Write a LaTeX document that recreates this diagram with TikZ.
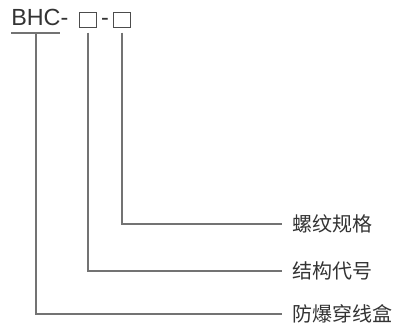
\documentclass[tikz,border=0pt]{standalone}
\usepackage{fontspec}
\setmainfont{Liberation Sans}
\newfontfamily\cjk{Noto Sans CJK SC}
\begin{document}
\begin{tikzpicture}[x=0.75pt,y=-0.75pt,
    lead/.style={draw=black!55,line width=1.1pt},
    slot/.style={draw=black!70,line width=0.9pt,minimum width=12.75pt,minimum height=11pt,inner sep=0pt},
    part/.style={anchor=west,inner xsep=7.5pt,inner ysep=0pt,text=black!80,font=\cjk\fontsize{15pt}{18pt}\selectfont}]
  \useasboundingbox (0,0) rectangle (400,331);
  % model code
  \node[anchor=base west,inner sep=0pt,text=black!80,font=\fontsize{17.5pt}{20pt}\selectfont](bhc)at(11,26){BHC-};
  \node[slot](s1)at(88,20){};
  \node[anchor=base,inner sep=0pt,text=black!80,font=\fontsize{17.5pt}{20pt}\selectfont](dash)at(105,26){-};
  \node[slot](s2)at(122,20){};
  \draw[lead] (11,33) -- (60,33);
  \coordinate (u) at (36,33);
  % meanings
  \node[part](thread)at(282,224){螺纹规格};
  \node[part](struct)at(282,271){结构代号};
  \node[part](box)at(282,314){防爆穿线盒};
  \draw[lead] ([yshift=-3.5pt]s2.south) |- (thread.west);
  \draw[lead] ([yshift=-3.5pt]s1.south) |- (struct.west);
  \draw[lead] (u) |- (box.west);
\end{tikzpicture}
\end{document}
